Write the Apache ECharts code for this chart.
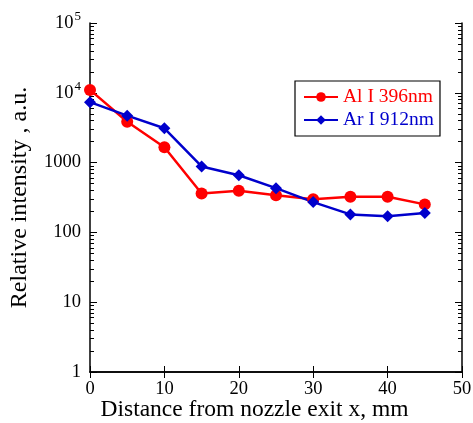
<!DOCTYPE html>
<html><head><meta charset="utf-8">
<script src="https://cdn.jsdelivr.net/npm/echarts@6/dist/echarts.min.js"></script>
<style>html,body{margin:0;padding:0;background:#fff}#c{width:473px;height:423px}</style>
</head><body><div id="c"></div>
<script>
const distances = [0, 5, 10, 15, 20, 25, 30, 35, 40, 45];
const alValues = [11000, 3850, 1660, 360, 395, 340, 298, 325, 325, 252];
const arValues = [7350, 4700, 3100, 880, 660, 430, 272, 181, 171, 190];
const yMinorTicks = [];
for (let d = 1; d < 100000; d *= 10) for (let k = 2; k <= 9; k++) yMinorTicks.push(k * d);
const yMinorLog = yMinorTicks.map(v => Math.log10(v));

const FONT = '"Liberation Serif", "Times New Roman", serif';
const chart = echarts.init(document.getElementById('c'));
const alData = distances.map((x, i) => [x, alValues[i]]);
const arData = distances.map((x, i) => [x, arValues[i]]);

function yLabel(v) {
  if (v === 10000) return '{b|10}{s|4}';
  if (v === 100000) return '{b|10}{s|5}';
  return '{b|' + v + '}';
}
const rich = {
  b: {fontFamily: FONT, fontSize: 18.5, color: '#000'},
  s: {fontFamily: FONT, fontSize: 13, color: '#000', verticalAlign: 'top', padding: [0, 0, 12, 1]}
};
const axisLine = {show: true, lineStyle: {color: '#000', width: 1.5}};
const baseY = {type: 'log', logBase: 10, min: 1, max: 100000, splitLine: {show: false}};
const minorY = {type: 'value', min: 0, max: 5, splitLine: {show: false},
  axisLine: {show: false}, axisLabel: {show: false},
  axisTick: {inside: true, length: 4, lineStyle: {color: '#000'}, customValues: yMinorLog}};

chart.setOption({
  animation: false,
  grid: {left: 90, top: 23, right: 11, bottom: 51, containLabel: false, outerBoundsMode: 'none'},
  legend: {
    left: 295, top: 81, orient: 'vertical',
    backgroundColor: '#fff', borderColor: '#000', borderWidth: 1.2,
    padding: [6, 6, 6, 8], itemGap: 3, itemWidth: 34, itemHeight: 12,
    textStyle: {fontFamily: FONT, fontSize: 19.5},
    data: [
      {name: 'Al I 396nm', textStyle: {color: '#ff0000'}},
      {name: 'Ar I 912nm', textStyle: {color: '#0000cc'}}
    ]
  },
  xAxis: [
    {type: 'value', min: 0, max: 50, interval: 10, position: 'bottom',
     name: 'Distance from nozzle exit x, mm', nameLocation: 'middle', nameGap: 26,
     nameMoveOverlap: false,
     nameTextStyle: {fontFamily: FONT, fontSize: 23.5, color: '#000', padding: [0, 43, 0, 0]},
     axisLine: axisLine, axisTick: {inside: true, length: 6, lineStyle: {color: '#000'}},
     axisLabel: {fontFamily: FONT, fontSize: 18.5, color: '#000', margin: 8},
     splitLine: {show: false}},
    {type: 'value', min: 0, max: 50, interval: 10, position: 'top',
     axisLine: axisLine, axisTick: {inside: true, length: 6, lineStyle: {color: '#000'}},
     axisLabel: {show: false}, splitLine: {show: false}}
  ],
  yAxis: [
    Object.assign({}, baseY, {position: 'left',
      name: 'Relative intensity , a.u.', nameLocation: 'middle', nameGap: 58,
      nameMoveOverlap: false,
      nameTextStyle: {fontFamily: FONT, fontSize: 24, color: '#000'},
      axisLine: axisLine,
      axisTick: {inside: true, length: 7, lineStyle: {color: '#000'}},
      axisLabel: {formatter: yLabel, rich: rich, margin: 9}}),
    Object.assign({}, minorY, {position: 'left'}),
    Object.assign({}, baseY, {position: 'right',
      axisLine: axisLine,
      axisTick: {inside: true, length: 7, lineStyle: {color: '#000'}},
      axisLabel: {show: false}}),
    Object.assign({}, minorY, {position: 'right'})
  ],
  series: [
    {name: 'Al I 396nm', type: 'line', data: alData, symbol: 'circle', symbolSize: 12,
     lineStyle: {color: '#ff0000', width: 2.5}, itemStyle: {color: '#ff0000'}},
    {name: 'Ar I 912nm', type: 'line', data: arData, symbol: 'diamond', symbolSize: 12,
     lineStyle: {color: '#0000cc', width: 2.5}, itemStyle: {color: '#0000cc'}}
  ]
});
</script></body></html>
